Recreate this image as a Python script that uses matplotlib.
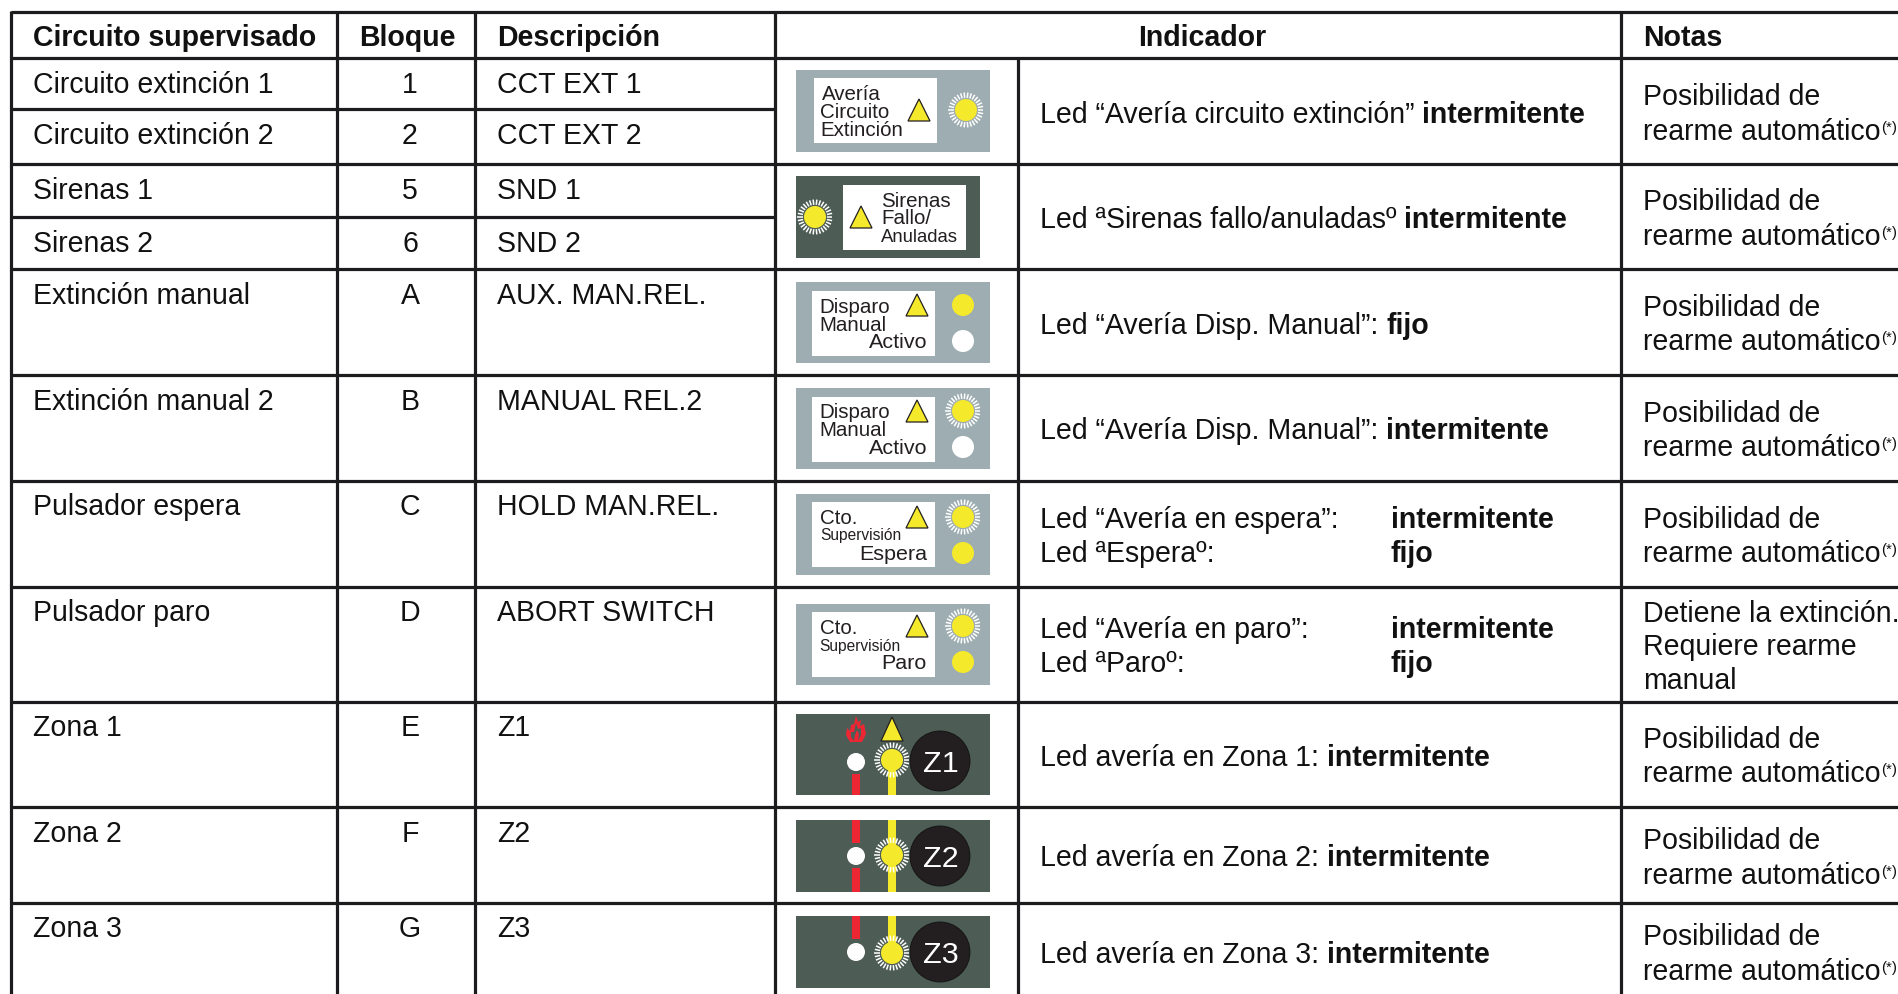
import numpy as np
import matplotlib
matplotlib.use('Agg')
import matplotlib.pyplot as plt
from matplotlib.patches import Rectangle, Circle, Polygon

plt.rcParams['font.family'] = ['Liberation Sans', 'DejaVu Sans']

# ---- table content
headers = ['Circuito supervisado', 'Bloque', 'Descripción', 'Indicador', 'Notas']
circuits = ['Circuito extinción 1', 'Circuito extinción 2', 'Sirenas 1', 'Sirenas 2',
            'Extinción manual', 'Extinción manual 2', 'Pulsador espera', 'Pulsador paro',
            'Zona 1', 'Zona 2', 'Zona 3']
blocks = ['1', '2', '5', '6', 'A', 'B', 'C', 'D', 'E', 'F', 'G']
descriptions = ['CCT EXT 1', 'CCT EXT 2', 'SND 1', 'SND 2', 'AUX. MAN.REL.', 'MANUAL REL.2',
                'HOLD MAN.REL.', 'ABORT SWITCH', 'Z1', 'Z2', 'Z3']
indicator_lines = [
    [[('Led “Avería circuito extinción” ', False), ('intermitente', True)]],
    [[('Led ªSirenas fallo/anuladasº ', False), ('intermitente', True)]],
    [[('Led “Avería Disp. Manual”: ', False), ('fijo', True)]],
    [[('Led “Avería Disp. Manual”: ', False), ('intermitente', True)]],
    [[('Led “Avería en espera”:', False)], [('Led ªEsperaº:', False)]],
    [[('Led “Avería en paro”:', False)], [('Led ªParoº:', False)]],
    [[('Led avería en Zona 1: ', False), ('intermitente', True)]],
    [[('Led avería en Zona 2: ', False), ('intermitente', True)]],
    [[('Led avería en Zona 3: ', False), ('intermitente', True)]],
]
state_words = {4: ['intermitente', 'fijo'], 5: ['intermitente', 'fijo']}
note_auto = ['Posibilidad de', 'rearme automático']
note_stop = ['Detiene la extinción.', 'Requiere rearme', 'manual']
notes = [note_auto, note_auto, note_auto, note_auto, note_auto, note_stop, note_auto, note_auto, note_auto]
zone_labels = ['Z1', 'Z2', 'Z3']

# ---- layout, pixels of the 1898x994 page
W, H = 1898, 994
col_x = [11, 337, 475, 775, 1018, 1621]
row_y = [12, 58, 164, 269, 375, 481, 587, 702, 807, 903]
sub_row_y = [109, 217]
circuit_base = [93, 144, 199, 252, 304, 410, 515, 621, 736, 842, 937]
ind_base = [[123], [228], [334], [439], [528, 562], [638, 672], [766], [866], [963]]
note_base = [[105, 140], [210, 245], [316, 350], [422, 456], [528, 562],
             [622, 655, 689], [748, 782], [849, 884], [945, 980]]
FS = 28.5

INK = '#1c1c1e'
TXT = '#231f20'
GREY = '#9eadb1'
DARK = '#4d5d56'
YEL = '#f4e92b'
RED = '#ed2633'

fig = plt.figure(figsize=(W / 100, H / 100), dpi=100, facecolor='white')
ax = fig.add_axes([0, 0, 1, 1])
ax.set_xlim(0, W)
ax.set_ylim(H, 0)
ax.axis('off')
r = fig.canvas.get_renderer()


def T(x, y, s, px=FS, bold=False, ha='left', color='#111111', **kw):
    return ax.text(x, y, s, fontsize=px * 0.72, fontweight='bold' if bold else 'normal',
                   ha=ha, va='baseline', color=color, **kw)


def rich(x, y, parts, px=FS):
    for s, b in parts:
        t = T(x, y, s.rstrip(), px, b)
        w = t.get_window_extent(r).width
        if s.endswith(' '):
            w += px * 0.278
        x += w
    return x


def rect(x0, y0, x1, y1, c):
    ax.add_patch(Rectangle((x0, y0), x1 - x0, y1 - y0, fc=c, ec='none', zorder=2))


def led(x, y, c, rad=11):
    ax.add_patch(Circle((x, y), rad, fc=c, ec='none', zorder=4))


def sun(x, y):
    led(x, y, YEL)
    for a in np.linspace(0, 2 * np.pi, 30, endpoint=False):
        ax.plot([x + 12.2 * np.cos(a), x + 17.5 * np.cos(a)], [y + 12.2 * np.sin(a), y + 17.5 * np.sin(a)],
                color='white', lw=1.1, zorder=4, solid_capstyle='butt')


def tri(x0, x1, apex, base):
    ax.add_patch(Polygon([(x0, base), (x1, base), ((x0 + x1) / 2, apex)], closed=True,
                         fc=YEL, ec=TXT, lw=0.9, zorder=4))


# ---- grid
def hl(y, x0=11, x1=W, lw=2.3):
    ax.plot([x0, x1], [y, y], color=INK, lw=lw, solid_capstyle='butt', zorder=5)


def vl(x, y0, y1=H, lw=2.3):
    ax.plot([x, x], [y0, y1], color=INK, lw=lw, solid_capstyle='butt', zorder=5)


for y in row_y:
    hl(y)
for y in sub_row_y:
    hl(y, 11, col_x[3])
for x in col_x:
    vl(x, 11 if x != col_x[4] else row_y[1])

# ---- header
T(33, 46, headers[0], bold=True)
T(407, 46, headers[1], bold=True, ha='center')
T(497, 46, headers[2], bold=True)
T(1202, 46, headers[3], bold=True, ha='center')
T(1643, 46, headers[4], bold=True)

# ---- first three columns
for c, b, d, y in zip(circuits, blocks, descriptions, circuit_base):
    T(33, y, c)
    T(410, y, b, ha='center')
    T(497, y, d)

# ---- indicator text
for i, (lines, ys) in enumerate(zip(indicator_lines, ind_base)):
    for j, (parts, y) in enumerate(zip(lines, ys)):
        rich(1040, y, parts)
        if i in state_words:
            T(1391, y, state_words[i][j], bold=True)

# ---- notes
for lines, ys in zip(notes, note_base):
    for s, y in zip(lines, ys):
        t = T(1643, y, s)
        if s == 'rearme automático':
            e = t.get_window_extent(r).width
            T(1643 + e + 1, y - 8, '(*)', px=15)

# ---- panels
PK = dict(px=20.5, color=TXT)
PW = dict(px=21.5, color=TXT)
# 1 extinction
rect(796, 70, 990, 152, GREY); rect(814, 78, 937, 143, 'white')
T(822, 100, 'Avería', **PK); T(820, 118, 'Circuito', **PK); T(820, 136, 'Extinción', **PK)
tri(908, 930, 99, 121); sun(966, 110)
# 2 sirens
rect(796, 176, 980, 258, DARK); rect(843, 185, 966, 250, 'white')
T(881, 207, 'Sirenas', **PK); T(881, 224, 'Fallo/', **PK); T(881, 242, 'Anuladas', px=18.5, color=TXT)
tri(850, 872, 206, 228); sun(815, 217)
# 3,4 manual
rect(796, 282, 990, 363, GREY); rect(812, 291, 935, 356, 'white')
T(819, 313, 'Disparo', **PK); T(819, 331, 'Manual', **PK); T(927, 348, 'Activo', ha='right', **PW)
tri(906, 928, 294, 316); led(963, 305, YEL); led(963, 341, 'white')
rect(796, 388, 990, 469, GREY); rect(812, 397, 935, 462, 'white')
T(819, 418, 'Disparo', **PK); T(819, 436, 'Manual', **PK); T(927, 454, 'Activo', ha='right', **PW)
tri(906, 928, 400, 422); sun(963, 411); led(963, 447, 'white')
# 5,6 hold/abort
SUP = dict(px=15.5, color=TXT)
rect(796, 494, 990, 575, GREY); rect(812, 502, 935, 567, 'white')
T(820, 524, 'Cto.', **PK); T(820, 540, 'Supervisión', **SUP); T(927, 560, 'Espera', ha='right', **PW)
tri(906, 928, 506, 528); sun(963, 517); led(963, 553, YEL)
rect(796, 604, 990, 685, GREY); rect(812, 612, 935, 677, 'white')
T(820, 634, 'Cto.', **PK); T(819, 651, 'Supervisión', **SUP); T(927, 669, 'Paro', ha='right', **PW)
tri(906, 928, 615, 637); sun(963, 626); led(963, 662, YEL)
# 7-9 zones
zone_panels = [(714, 795), (820, 892), (916, 988)]
zone_cy = [761, 856, 952]
for (y0, y1), cy, lab in zip(zone_panels, zone_cy, zone_labels):
    rect(796, y0, 990, y1, DARK)
    first = lab == zone_labels[0]
    last = lab == zone_labels[2]
    if first:
        rect(852, 774, 860, y1, RED)
        rect(888, cy, 896, y1, YEL)
    else:
        rect(852, y0, 860, cy - 13, RED)
        rect(888, y0, 896, cy, YEL)
        if not last:
            rect(852, cy + 12, 860, y1, RED)
            rect(888, cy, 896, y1, YEL)
    led(856, cy + (1 if first else 0), 'white', 9)
    sun(892, cy - (1 if not last else -1))
    ax.add_patch(Circle((940, cy), 30, fc=TXT, ec='#111111', lw=0.6, zorder=4))
    T(940.5, cy + 11, lab, px=30.5, ha='center', color='white', zorder=6)
tri(881, 903, 717, 741)
flame = [(856, 716), (858, 722), (861, 720), (860, 726), (864, 724), (866, 734), (862, 742), (850, 742),
         (846, 735), (847, 728), (850, 731), (851, 725), (854, 724)]
ax.add_patch(Polygon(flame, closed=True, fc=RED, ec='none', zorder=4))
flame_gaps = [[(856, 723), (858, 729), (861, 728), (861, 735), (858, 741), (859, 734), (857, 730), (855, 735),
               (854, 741), (851, 737), (851, 732), (854, 732)]]
for g in flame_gaps:
    ax.add_patch(Polygon(g, closed=True, fc=DARK, ec='none', zorder=4))

fig.savefig('out.png', dpi=100, facecolor='white')
